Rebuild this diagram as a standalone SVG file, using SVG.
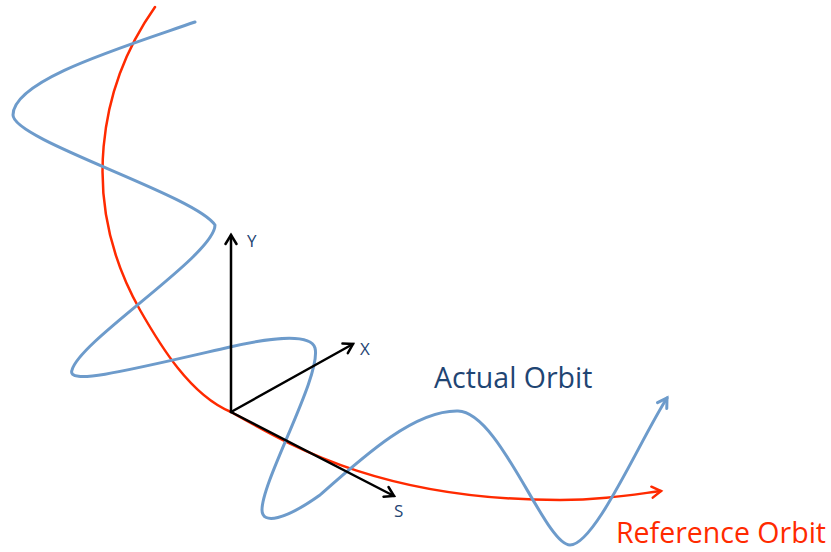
<svg xmlns="http://www.w3.org/2000/svg" width="831" height="552" viewBox="0 0 831 552">
<defs>
<style>
.blue{fill:none;stroke:#6D9BCB;stroke-width:3;stroke-linecap:round;stroke-linejoin:round}
.red{fill:none;stroke:#FF2A00;stroke-width:2.5;stroke-linecap:round}
.axis{fill:none;stroke:#000;stroke-width:2.5;stroke-linecap:round}
.lbl{font-family:"Open Sans","Liberation Sans",sans-serif;fill:#1F4573}
</style>
<marker id="ab" viewBox="0 0 14 14" refX="11" refY="7" markerWidth="14" markerHeight="14" markerUnits="userSpaceOnUse" orient="auto"><path d="M2,1.5 L11,7 L2,12.5" fill="none" stroke="#000" stroke-width="2.5" stroke-linecap="round" stroke-linejoin="miter"/></marker>
<marker id="ar" viewBox="0 0 14 14" refX="11" refY="7" markerWidth="14" markerHeight="14" markerUnits="userSpaceOnUse" orient="auto"><path d="M2,1.5 L11,7 L2,12.5" fill="none" stroke="#FF2A00" stroke-width="2.5" stroke-linecap="round"/></marker>
<marker id="abl" viewBox="0 0 14 14" refX="11" refY="7" markerWidth="14" markerHeight="14" markerUnits="userSpaceOnUse" orient="auto"><path d="M2,1.5 L11,7 L2,12.5" fill="none" stroke="#6D9BCB" stroke-width="3" stroke-linecap="round"/></marker>
</defs>
<rect width="831" height="552" fill="#fff"/>
<g id="connectors">
<path id="reference-orbit" class="red" marker-end="url(#ar)" d="M155,7 C100,85 78,200 140,310 C160,345 190,395 231,412 C290,445 380,500 560,500 C600,500 630,495 661,491"/>
<path id="actual-orbit" class="blue" marker-end="url(#abl)" d="M195,22 C120,48 13,80 13,115 C13,140 195,195 215,225 C215,255 80,340 72,370 C66,386 130,370 230,347 C265,339 310,332 315,348 C322,375 262,480 262,510 C262,525 285,520 320,495 C365,455 415,410 458,411 C500,412 545,545 570,545 C595,545 640,440 667,398"/>
<line id="axis-y" class="axis" marker-end="url(#ab)" x1="231" y1="412" x2="231" y2="235"/>
<line id="axis-x" class="axis" marker-end="url(#ab)" x1="231" y1="412" x2="353" y2="344"/>
<line id="axis-s" class="axis" marker-end="url(#ab)" x1="231" y1="412" x2="394" y2="496"/>
</g>
<g id="label-y"><text class="lbl" x="247" y="247" font-size="17">Y</text></g>
<g id="label-x"><text class="lbl" x="360" y="355" font-size="17">X</text></g>
<g id="label-s"><text class="lbl" x="394" y="517" font-size="17">S</text></g>
<g id="label-actual"><text class="lbl" x="434" y="388" font-size="28.5">Actual Orbit</text></g>
<g id="label-reference"><text x="616" y="543" font-size="28.5" font-family="'Open Sans','Liberation Sans',sans-serif" fill="#FF2A00">Reference Orbit</text></g>
</svg>
